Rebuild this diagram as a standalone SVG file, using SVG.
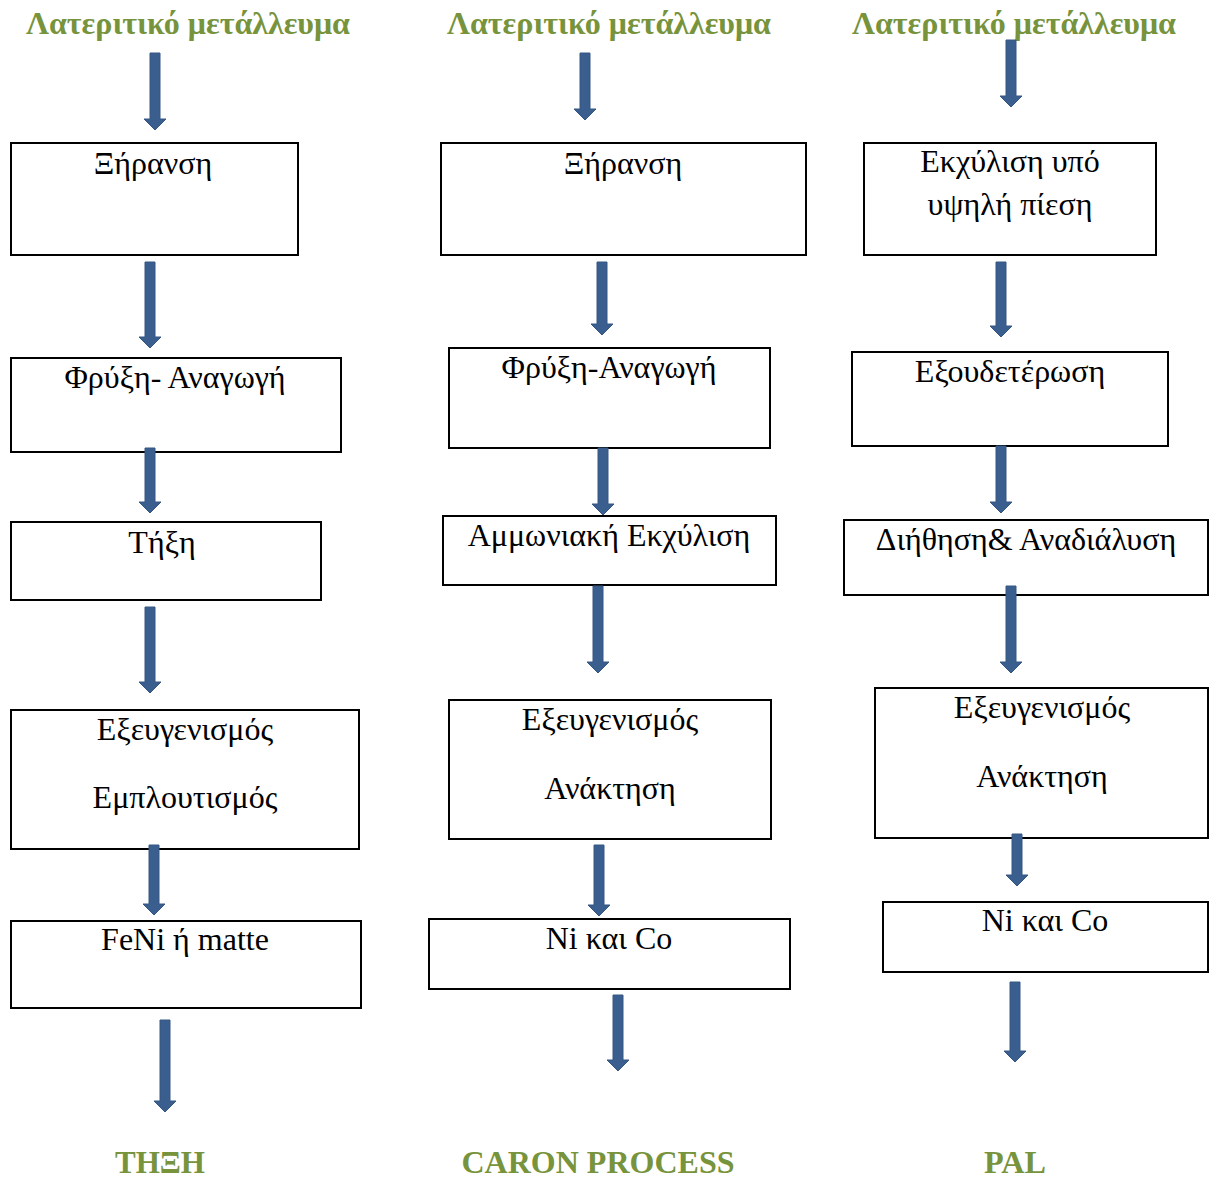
<svg xmlns="http://www.w3.org/2000/svg" width="1209" height="1180" viewBox="0 0 1209 1180">
<style>
.box{fill:#fff;stroke:#000;stroke-width:2}
.t{font-family:"Liberation Serif","Times New Roman",serif;font-size:32px;fill:#000;text-anchor:middle}
.h{font-family:"Liberation Serif","Times New Roman",serif;font-size:32px;font-weight:bold;fill:#77933C;text-anchor:middle}
.f{font-family:"Liberation Serif","Times New Roman",serif;font-size:31px;font-weight:bold;fill:#77933C;text-anchor:middle}
.ar{fill:#3A5F8F;stroke:#345684;stroke-width:1}
</style>
<rect width="1209" height="1180" fill="#fff"/>
<g id="headers">
<text class="h" x="188" y="34">Λατεριτικό μετάλλευμα</text>
<text class="h" x="609" y="34">Λατεριτικό μετάλλευμα</text>
<text class="h" x="1014" y="34">Λατεριτικό μετάλλευμα</text>
</g>
<g id="n1-1"><rect class="box" x="11" y="143" width="287" height="112"/><text class="t" x="153" y="174">Ξήρανση</text></g>
<g id="n1-2"><rect class="box" x="11" y="358" width="330" height="94"/><text class="t" x="175" y="388">Φρύξη- Αναγωγή</text></g>
<g id="n1-3"><rect class="box" x="11" y="522" width="310" height="78"/><text class="t" x="162" y="553">Τήξη</text></g>
<g id="n1-4"><rect class="box" x="11" y="710" width="348" height="139"/><text class="t" x="185" y="740">Εξευγενισμός</text><text class="t" x="185" y="808">Εμπλουτισμός</text></g>
<g id="n1-5"><rect class="box" x="11" y="921" width="350" height="87"/><text class="t" x="185" y="950">FeNi ή matte</text></g>
<g id="n2-1"><rect class="box" x="441" y="143" width="365" height="112"/><text class="t" x="623" y="174">Ξήρανση</text></g>
<g id="n2-2"><rect class="box" x="449" y="348" width="321" height="100"/><text class="t" x="609" y="378">Φρύξη-Αναγωγή</text></g>
<g id="n2-3"><rect class="box" x="443" y="516" width="333" height="69"/><text class="t" x="609" y="546">Αμμωνιακή Εκχύλιση</text></g>
<g id="n2-4"><rect class="box" x="449" y="700" width="322" height="139"/><text class="t" x="610" y="730">Εξευγενισμός</text><text class="t" x="610" y="799">Ανάκτηση</text></g>
<g id="n2-5"><rect class="box" x="429" y="919" width="361" height="70"/><text class="t" x="609" y="949">Ni και Co</text></g>
<g id="n3-1"><rect class="box" x="864" y="143" width="292" height="112"/><text class="t" x="1010" y="172">Εκχύλιση υπό</text><text class="t" x="1010" y="215">υψηλή πίεση</text></g>
<g id="n3-2"><rect class="box" x="852" y="352" width="316" height="94"/><text class="t" x="1010" y="382">Εξουδετέρωση</text></g>
<g id="n3-3"><rect class="box" x="844" y="520" width="364" height="75"/><text class="t" x="1026" y="550">Διήθηση&amp; Αναδιάλυση</text></g>
<g id="n3-4"><rect class="box" x="875" y="688" width="333" height="150"/><text class="t" x="1042" y="718">Εξευγενισμός</text><text class="t" x="1042" y="787">Ανάκτηση</text></g>
<g id="n3-5"><rect class="box" x="883" y="902" width="325" height="70"/><text class="t" x="1045" y="931">Ni και Co</text></g>
<g id="connectors">
<path class="ar" d="M150 53H160V119H166L155 130L144 119H150Z"/>
<path class="ar" d="M145 262H155V337H161L150 348L139 337H145Z"/>
<path class="ar" d="M145 448H155V502H161L150 513L139 502H145Z"/>
<path class="ar" d="M145 607H155V682H161L150 693L139 682H145Z"/>
<path class="ar" d="M149 845H159V904H165L154 915L143 904H149Z"/>
<path class="ar" d="M160 1020H170V1101H176L165 1112L154 1101H160Z"/>
<path class="ar" d="M580 53H590V109H596L585 120L574 109H580Z"/>
<path class="ar" d="M597 262H607V324H613L602 335L591 324H597Z"/>
<path class="ar" d="M598 448H608V504H614L603 515L592 504H598Z"/>
<path class="ar" d="M593 586H603V662H609L598 673L587 662H593Z"/>
<path class="ar" d="M594 845H604V905H610L599 916L588 905H594Z"/>
<path class="ar" d="M613 995H623V1060H629L618 1071L607 1060H613Z"/>
<path class="ar" d="M1006 40H1016V96H1022L1011 107L1000 96H1006Z"/>
<path class="ar" d="M996 262H1006V326H1012L1001 337L990 326H996Z"/>
<path class="ar" d="M996 446H1006V502H1012L1001 513L990 502H996Z"/>
<path class="ar" d="M1006 586H1016V662H1022L1011 673L1000 662H1006Z"/>
<path class="ar" d="M1012 834H1022V875H1028L1017 886L1006 875H1012Z"/>
<path class="ar" d="M1010 982H1020V1051H1026L1015 1062L1004 1051H1010Z"/>
</g>
<g id="footers">
<text class="f" x="160" y="1173" textLength="90" lengthAdjust="spacingAndGlyphs">ΤΗΞΗ</text>
<text class="f" x="598" y="1173" textLength="273" lengthAdjust="spacingAndGlyphs">CARON PROCESS</text>
<text class="f" x="1015" y="1173" textLength="62" lengthAdjust="spacingAndGlyphs">PAL</text>
</g>
</svg>
